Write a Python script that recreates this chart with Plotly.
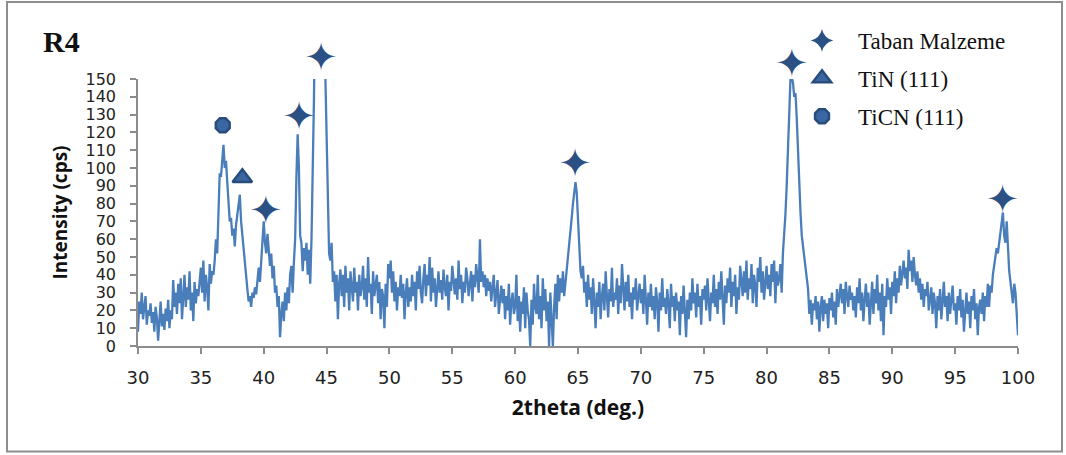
import numpy as np
import plotly.graph_objects as go

# ---- data: XRD pattern, intensity (cps) sampled every 0.1 deg from 30.0 to 100.0 ----
two_theta_start = 30.0
two_theta_step = 0.1

i_30_40 = [
    8, 25, 18, 30, 15, 22, 28, 12, 20, 17,
    24, 13, 19, 8, 22, 16, 3, 14, 25, 11,
    18, 9, 21, 14, 26, 10, 20, 15, 37, 22,
    30, 18, 35, 24, 38, 15, 28, 40, 22, 33,
    26, 42, 20, 30, 14, 36, 24, 32, 28, 38,
    44, 30, 48, 25, 40, 33, 20, 46, 35, 42,
    40, 48, 60, 52, 78, 97, 95, 102, 113, 100,
    104, 92, 78, 70, 72, 62, 66, 56, 68, 75,
    78, 85, 70, 62, 52, 45, 38, 32, 25, 28,
    22, 30, 27, 33, 29, 38, 44, 36, 48, 62,
]
i_40_50 = [
    70, 58, 52, 63, 55, 45, 52, 38, 45, 30,
    34, 22, 28, 5, 18, 25, 14, 30, 20, 33,
    24, 40, 45, 30, 47, 60, 95, 119, 100, 62,
    58, 42, 55, 48, 58, 40, 54, 35, 60, 95,
    140, 200, 280, 330, 350, 320, 270, 220, 185, 160,
    130, 85, 52, 48, 58, 36, 42, 25, 40, 15,
    35, 43, 28, 40, 22, 45, 30, 38, 20, 42,
    32, 25, 44, 30, 36, 20, 40, 28, 33, 45,
    26, 38, 22, 50, 30, 35, 18, 42, 28, 33,
    40, 24, 36, 15, 32, 28, 10, 35, 22, 46,
]
i_50_60 = [
    38, 48, 30, 42, 25, 36, 20, 33, 28, 40,
    27, 35, 15, 30, 38, 22, 33, 25, 40, 28,
    36, 20, 42, 32, 45, 30, 24, 38, 46, 28,
    40, 34, 50, 25, 44, 30, 38, 22, 35, 42,
    30, 37, 26, 43, 33, 28, 40, 20, 36, 31,
    45, 34, 29, 38, 26, 48, 32, 40, 24, 36,
    30, 44, 38, 28, 35, 42, 25, 40, 33, 46,
    38, 30, 60, 36, 42, 33, 40, 28, 38, 31,
    36, 25, 33, 40, 22, 30, 37, 18, 28, 34,
    24, 32, 15, 28, 20, 35, 12, 25, 30, 18,
]
i_60_70 = [
    22, 40, 14, 28, 8, 25, 18, 33, 10, 30,
    20, 15, 0, 26, 12, 35, 22, 18, 40, 15,
    28, 10, 38, 20, 32, 14, 25, 0, 30, 18,
    0, 22, 35, 15, 40, 25, 38, 30, 42, 28,
    35, 40, 48, 55, 62, 72, 80, 88, 92, 86,
    70, 55, 42, 38, 45, 30, 36, 22, 40, 26,
    33, 18, 38, 25, 10, 30, 22, 36, 15, 28,
    35, 20, 42, 28, 16, 32, 25, 44, 22, 30,
    26, 38, 18, 34, 24, 46, 28, 20, 36, 25,
    40, 22, 30, 15, 33, 26, 38, 20, 28, 35,
]
i_70_80 = [
    24, 32, 18, 40, 26, 12, 30, 22, 35, 20,
    28, 15, 33, 25, 8, 30, 20, 38, 22, 27,
    18, 32, 24, 10, 35, 22, 28, 14, 30, 20,
    25, 6, 28, 18, 34, 22, 5, 26, 15, 30,
    20, 38, 24, 30, 16, 35, 22, 28, 12, 32,
    26, 34, 20, 38, 28, 14, 30, 24, 40, 22,
    32, 18, 36, 26, 42, 28, 12, 34, 24, 38,
    30, 44, 22, 36, 28, 40, 18, 33, 26, 45,
    35, 28, 42, 30, 48, 26, 38, 32, 46, 24,
    40, 34, 22, 44, 36, 50, 30, 42, 26, 38,
]
i_80_90 = [
    45, 32, 40, 28, 46, 36, 48, 24, 42, 34,
    38, 46, 30, 52, 62, 74, 90, 108, 130, 150,
    151, 148, 140, 142, 128, 108, 90, 75, 62, 55,
    48, 44, 38, 32, 18, 26, 12, 24, 20, 28,
    15, 25, 8, 22, 28, 14, 26, 18, 24, 10,
    27, 20, 30, 16, 25, 12, 32, 22, 28, 35,
    24, 32, 18, 36, 28, 22, 34, 26, 30, 20,
    28, 16, 33, 24, 38, 20, 30, 14, 26, 35,
    22, 30, 12, 28, 36, 18, 32, 24, 40, 20,
    30, 14, 35, 6, 28, 22, 38, 26, 33, 18,
]
i_90_100 = [
    36, 28, 42, 24, 38, 30, 45, 34, 40, 48,
    38, 44, 32, 54, 42, 48, 36, 50, 40, 34,
    42, 30, 38, 26, 35, 22, 32, 28, 36, 20,
    26, 33, 18, 30, 24, 10, 28, 20, 32, 15,
    25, 36, 22, 28, 14, 30, 18, 26, 34, 20,
    24, 12, 28, 20, 32, 16, 26, 8, 22, 30,
    18, 25, 10, 28, 20, 32, 15, 24, 6, 22,
    26, 18, 30, 14, 28, 22, 35, 22, 34, 30,
    40, 45, 50, 55, 52, 58, 65, 72, 75, 62,
    58, 70, 55, 42, 36, 28, 24, 35, 30, 18,
    6,
]

# peak identification markers
star_x = [40.16, 42.8, 44.56, 64.77, 82.0, 98.76]
star_y = [77, 129.5, 163, 103.5, 159.5, 83]
tin_x = [38.3]
tin_y = [94.5]
ticn_x = [36.74]
ticn_y = [124]

legend_names = ["Taban Malzeme", "TiN (111)", "TiCN (111)"]

x_range = [30, 100]
y_range = [0, 150]
x_ticks = list(range(30, 101, 5))
y_ticks = list(range(0, 151, 10))

# ---- build ----
intensity = i_30_40 + i_40_50 + i_50_60 + i_60_70 + i_70_80 + i_80_90 + i_90_100
two_theta = np.round(two_theta_start + two_theta_step * np.arange(len(intensity)), 2)

LINE = "#4A7EBB"
STAR = "#2B5083"
MARK = "#3A67A3"
MARK_EDGE = "#284D7A"

# Geometry: the pattern axis (0-150) fills the lower part of the plotting box, the
# upper strip holds the peak labels that sit above 150 (same data scale, axis y2).
W, H = 1066, 455
M_L, M_R, M_T, M_B = 138, 48, 30, 109
box_h = H - M_T - M_B                    # 316 px
axis_h = 267                             # px used by 0..150
dom_top = axis_h / box_h
y2_top = y_range[1] / dom_top            # same cps-per-pixel on the marker axis
cps_per_px = y_range[1] / axis_h
glyph_drop = 5 * cps_per_px              # the star glyph sits ~5 px above its text centre

def py(pix_y):
    """page pixel row -> paper y"""
    return (H - M_B - pix_y) / box_h

def px(pix_x):
    return (pix_x - M_L) / (W - M_L - M_R)

fig = go.Figure()
fig.add_trace(go.Scatter(
    x=two_theta, y=intensity, mode="lines",
    line=dict(color=LINE, width=2.3), showlegend=False, hoverinfo="x+y",
))
# four-pointed "sparkle" star marks for the substrate peaks
fig.add_trace(go.Scatter(
    x=star_x, y=star_y, yaxis="y3", mode="text", text=["\u2726"] * len(star_x),
    textposition="middle center",
    textfont=dict(family="DejaVu Sans", size=40, color=STAR),
    cliponaxis=False, showlegend=False, hoverinfo="x+y",
))
# legend entry for the star marks
fig.add_trace(go.Scatter(
    x=[None], y=[None], mode="markers", name=legend_names[0],
    marker=dict(symbol="star-diamond", size=16, color=STAR),
    legendgroup="a",
))
fig.add_trace(go.Scatter(
    x=tin_x, y=tin_y, yaxis="y2", mode="markers", name=legend_names[1],
    marker=dict(symbol="triangle-up", size=17, color=MARK,
                line=dict(color=MARK_EDGE, width=2.5)),
    cliponaxis=False, legendgroup="b",
))
fig.add_trace(go.Scatter(
    x=ticn_x, y=ticn_y, yaxis="y2", mode="markers", name=legend_names[2],
    marker=dict(symbol="octagon", size=15, color=MARK,
                line=dict(color=MARK_EDGE, width=2.5)),
    cliponaxis=False, legendgroup="c",
))

axis_common = dict(
    showline=True, linecolor="#8C8C8C", linewidth=1.5,
    ticks="outside", tickcolor="#8C8C8C", ticklen=6, tickwidth=1.5,
    showgrid=False, zeroline=False,
)

fig.update_layout(
    width=W, height=H,
    margin=dict(l=M_L, r=M_R, t=M_T, b=M_B),
    paper_bgcolor="white", plot_bgcolor="rgba(0,0,0,0)",
    xaxis=dict(range=x_range, tickvals=x_ticks, ticklabelstandoff=9, anchor="y",
               tickfont=dict(family="DejaVu Sans", size=18, color="#222222"),
               title=dict(text="<b>2theta (deg.)</b>",
                          font=dict(family="Open Sans", size=21, color="#111111"),
                          standoff=13),
               **axis_common),
    yaxis=dict(range=y_range, tickvals=y_ticks, ticklabelstandoff=11,
               domain=[0, dom_top], anchor="x",
               tickfont=dict(family="DejaVu Sans", size=16, color="#222222"),
               title=dict(text="<b>Intensity (cps)</b>",
                          font=dict(family="Open Sans", size=19, color="#111111"),
                          standoff=13),
               **axis_common),
    yaxis2=dict(range=[0, y2_top], domain=[0, 1], anchor="x", visible=False,
                fixedrange=True),
    yaxis3=dict(range=[glyph_drop, y2_top + glyph_drop], domain=[0, 1], anchor="x",
                visible=False, fixedrange=True),
    legend=dict(x=px(786), y=py(19), xanchor="left", yanchor="top",
                font=dict(family="Liberation Serif", size=23, color="#111111"),
                bgcolor="rgba(0,0,0,0)", tracegroupgap=5, itemwidth=62),
    showlegend=True,
    annotations=[dict(
        text="<b>R4</b>", xref="paper", yref="paper",
        x=px(41), y=py(41.5), xanchor="left", yanchor="middle", showarrow=False,
        font=dict(family="Liberation Serif", size=30, color="#111111"),
    )],
    shapes=[dict(
        type="rect", xref="paper", yref="paper",
        x0=px(7), x1=px(1062), y0=py(451.5), y1=py(2),
        line=dict(color="#8E8E8E", width=2), fillcolor="rgba(0,0,0,0)", layer="below",
    )],
)

fig.write_html("out.html", config={"displayModeBar": False},
               post_script="document.body.style.margin='0';")
